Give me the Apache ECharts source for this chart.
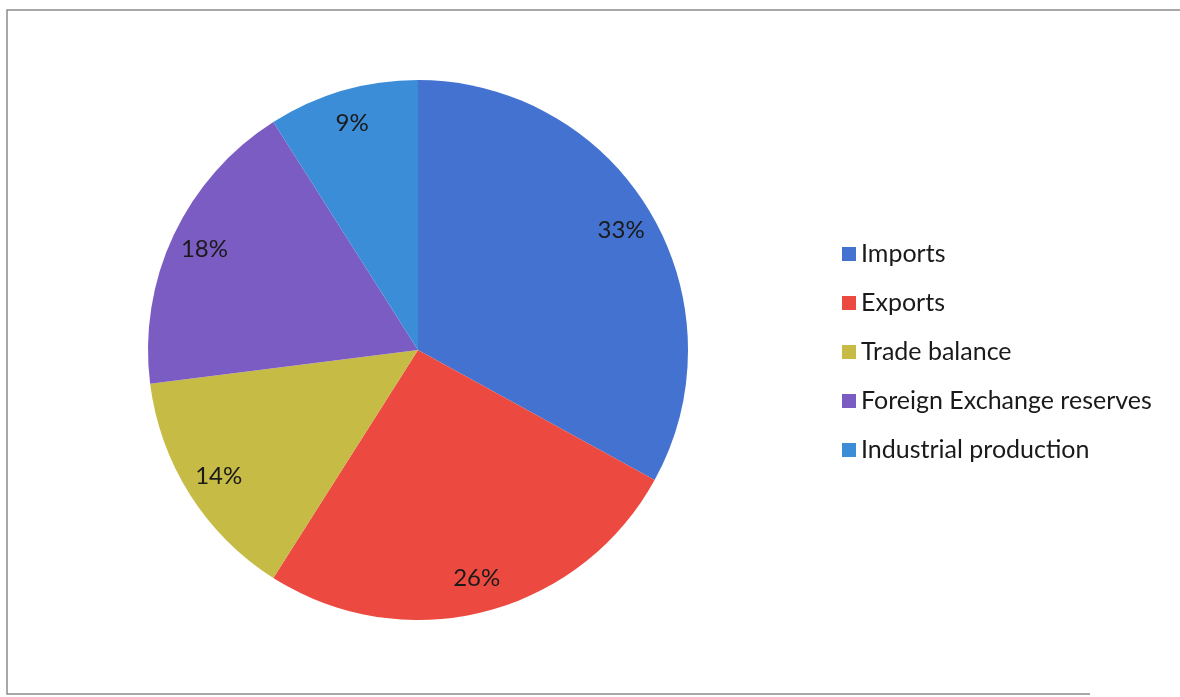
<!DOCTYPE html>
<html>
<head>
<meta charset="utf-8">
<script src="https://cdn.jsdelivr.net/npm/echarts@6/dist/echarts.min.js"></script>
<style>
  html, body { margin: 0; padding: 0; background: #ffffff; }
  #chart { width: 1180px; height: 697px; }
</style>
</head>
<body>
<div id="chart"></div>
<script>
// Share of indicators
const categories = ['Imports', 'Exports', 'Trade balance', 'Foreign Exchange reserves', 'Industrial production'];
const shares = [33, 26, 14, 18, 9];
const colors = ['#4472d0', '#ec4a40', '#c6bb45', '#7b5cc2', '#3b8dd8'];

const FONT = 'Lato';
const cx = 418, cy = 350, R = 270;

const sliceData = categories.map((name, i) => ({
  name: name,
  value: shares[i],
  itemStyle: { color: colors[i] }
}));

const chart = echarts.init(document.getElementById('chart'));
chart.setOption({
  animation: false,
  backgroundColor: '#ffffff',
  legend: {
    orient: 'vertical',
    left: 837,
    top: 236,
    itemWidth: 14,
    itemHeight: 14,
    itemGap: 23,
    icon: 'rect',
    data: categories,
    textStyle: { fontFamily: FONT, fontSize: 25, color: '#1a1a1a', lineHeight: 26 }
  },
  graphic: [
    {
      type: 'polyline',
      shape: { points: [[1180, 10], [7, 10], [7, 694], [1090, 694]] },
      style: { stroke: '#8c8c8c', lineWidth: 1.5, fill: null },
      silent: true
    }
  ],
  series: [
    {
      type: 'pie',
      center: [cx, cy],
      radius: [0, R],
      startAngle: 90,
      clockwise: true,
      silent: true,
      label: { show: false },
      labelLine: { show: false },
      data: sliceData
    },
    {
      // transparent ring that carries the percentage labels near the rim
      type: 'pie',
      center: [cx, cy],
      radius: [196, R],
      startAngle: 90,
      clockwise: true,
      silent: true,
      legendHoverLink: false,
      itemStyle: { color: 'rgba(0,0,0,0)' },
      label: {
        show: true,
        position: 'inside',
        formatter: '{c}%',
        fontFamily: FONT,
        fontSize: 24,
        color: '#1a1a1a'
      },
      labelLine: { show: false },
      data: categories.map((name, i) => ({ name: name + ' ', value: shares[i] }))
    }
  ]
});
</script>
</body>
</html>
